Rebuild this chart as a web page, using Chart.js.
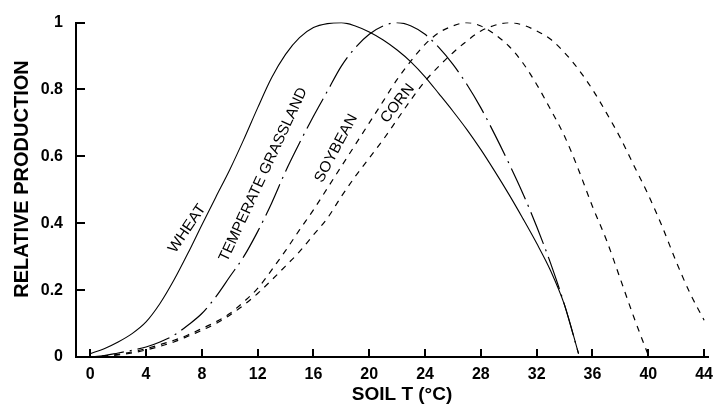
<!DOCTYPE html>
<html>
<head>
<meta charset="utf-8">
<script src="https://cdn.jsdelivr.net/npm/chart.js@4.4.1/dist/chart.umd.min.js"></script>
<style>
  html, body { margin: 0; padding: 0; background: #fff; }
</style>
</head>
<body>
<canvas id="grafikSuhu" width="721" height="406"></canvas>
<script>
// suhu tanah (x) dan produksi relatif tiap tanaman
const soilT = [0, 1, 2, 3, 4, 5, 6, 7, 8, 9, 10, 11, 12, 13, 14, 15, 16, 17, 18, 19, 20, 21, 22,
               23, 24, 25, 26, 27, 28, 29, 30, 31, 32, 33, 34, 35, 36, 37, 38, 39, 40, 41, 42, 43, 44];

const wheat = [0.01, 0.025, 0.045, 0.07, 0.105, 0.16, 0.23, 0.31, 0.395, 0.478, 0.56, 0.65, 0.745,
               0.835, 0.905, 0.955, 0.985, 0.997, 1.0, 0.99, 0.972, 0.948, 0.918, 0.882, 0.838, 0.787,
               0.735, 0.68, 0.62, 0.555, 0.487, 0.415, 0.34, 0.258, 0.155, 0.01];

const grassland = [0.0, 0.004, 0.012, 0.02, 0.03, 0.045, 0.065, 0.095, 0.13, 0.18, 0.24, 0.30, 0.375,
                   0.46, 0.555, 0.64, 0.72, 0.795, 0.87, 0.925, 0.965, 0.99, 1.0, 0.99, 0.965, 0.925,
                   0.875, 0.815, 0.745, 0.665, 0.58, 0.49, 0.39, 0.28, 0.155, 0.01];

const soybean = [0.0, 0.003, 0.008, 0.015, 0.025, 0.037, 0.05, 0.066, 0.085, 0.105, 0.13, 0.165, 0.205,
                 0.26, 0.318, 0.38, 0.44, 0.505, 0.57, 0.635, 0.70, 0.765, 0.83, 0.886, 0.935, 0.97,
                 0.99, 1.0, 0.99, 0.965, 0.93, 0.88, 0.815, 0.74, 0.66, 0.56, 0.45, 0.35, 0.233, 0.115, 0.005];

const corn = [0.0, 0.002, 0.006, 0.012, 0.021, 0.032, 0.045, 0.062, 0.08, 0.10, 0.125, 0.155, 0.19,
              0.23, 0.272, 0.315, 0.365, 0.415, 0.48, 0.54, 0.595, 0.65, 0.71, 0.77, 0.825, 0.87,
              0.91, 0.945, 0.975, 0.992, 1.0, 0.993, 0.975, 0.95, 0.91, 0.86, 0.80, 0.73, 0.655,
              0.57, 0.485, 0.39, 0.285, 0.19, 0.11];

const xTicks = [0, 4, 8, 12, 16, 20, 24, 28, 32, 36, 40, 44];
const xTickLabels = ['0', '4', '8', '12', '16', '20', '24', '28', '32', '36', '40', '44'];
const yTicks = [0, 0.2, 0.4, 0.6, 0.8, 1];
const yTickLabels = ['0', '0.2', '0.4', '0.6', '0.8', '1'];

const namaTanaman = ['WHEAT', 'TEMPERATE GRASSLAND', 'SOYBEAN', 'CORN'];

const FONT = '"Liberation Sans", Arial, Helvetica, sans-serif';

// posisi label di kurva (dalam satuan data), sudut dan panjang teks
const labelKurva = [
    { x: 6.95, y: 0.384, sudut: -56, panjang: 55 },
    { x: 12.41, y: 0.545, sudut: -65, panjang: 190 },
    { x: 17.63, y: 0.624, sudut: -62, panjang: 75 },
    { x: 22.03, y: 0.758, sudut: -52, panjang: 45 }
];

function toPoints(values) {
    return values.map((v, i) => ({ x: soilT[i], y: v }));
}

// tick kecil ke arah dalam + label kurva + judul sumbu
const gambarTambahan = {
    id: 'gambarTambahan',
    afterDraw(chart) {
        const { ctx, chartArea, scales } = chart;
        ctx.save();
        ctx.strokeStyle = '#000';
        ctx.lineWidth = 2;
        scales.x.ticks.forEach(t => {
            const px = Math.round(scales.x.getPixelForValue(t.value));
            ctx.beginPath();
            ctx.moveTo(px, chartArea.bottom);
            ctx.lineTo(px, chartArea.bottom - 8);
            ctx.stroke();
        });
        scales.y.ticks.forEach(t => {
            const py = Math.round(scales.y.getPixelForValue(t.value));
            ctx.beginPath();
            ctx.moveTo(chartArea.left, py);
            ctx.lineTo(chartArea.left + 9, py);
            ctx.stroke();
        });

        // label nama tanaman
        ctx.fillStyle = '#000';
        ctx.textAlign = 'center';
        ctx.textBaseline = 'middle';
        ctx.font = '15px ' + FONT;
        labelKurva.forEach((lb, i) => {
            const px = scales.x.getPixelForValue(lb.x);
            const py = scales.y.getPixelForValue(lb.y);
            const w = ctx.measureText(namaTanaman[i]).width;
            ctx.save();
            ctx.translate(px, py);
            ctx.rotate(lb.sudut * Math.PI / 180);
            ctx.scale(lb.panjang / w, 1);
            ctx.fillText(namaTanaman[i], 0, 0);
            ctx.restore();
        });

        // judul sumbu
        ctx.font = 'bold 19px ' + FONT;
        ctx.fillText('SOIL T (°C)', 402, 395);
        ctx.save();
        ctx.translate(22, 179);
        ctx.rotate(-Math.PI / 2);
        ctx.font = 'bold 20px ' + FONT;
        ctx.fillText('RELATIVE PRODUCTION', 0, 0);
        ctx.restore();
        ctx.restore();
    }
};

const gayaGaris = {
    borderColor: '#000',
    pointRadius: 0,
    fill: false,
    cubicInterpolationMode: 'monotone'
};

const ctx = document.getElementById('grafikSuhu').getContext('2d');
const grafikSuhu = new Chart(ctx, {
    type: 'line',
    data: {
        datasets: [
            { ...gayaGaris, label: namaTanaman[0], data: toPoints(wheat), borderWidth: 1.1 },
            { ...gayaGaris, label: namaTanaman[1], data: toPoints(grassland), borderWidth: 1.2, borderDash: [34, 6, 2, 6] },
            { ...gayaGaris, label: namaTanaman[2], data: toPoints(soybean), borderWidth: 1.2, borderDash: [6, 6] },
            { ...gayaGaris, label: namaTanaman[3], data: toPoints(corn), borderWidth: 1.2, borderDash: [6, 6] }
        ]
    },
    options: {
        responsive: false,
        animation: false,
        devicePixelRatio: 1,
        layout: { padding: { left: 0, top: 20, right: 1, bottom: 0 } },
        plugins: {
            legend: { display: false },
            tooltip: { enabled: false }
        },
        scales: {
            x: {
                type: 'linear',
                min: -1.02,
                max: 44.33,
                afterBuildTicks: s => { s.ticks = xTicks.map(v => ({ value: v })); },
                afterFit: s => { s.height = 49; },
                grid: { display: false, drawTicks: false },
                border: { display: true, color: '#000', width: 2 },
                ticks: {
                    color: '#000',
                    padding: 8,
                    maxRotation: 0,
                    autoSkip: false,
                    font: { family: FONT, size: 16, weight: 'bold' },
                    callback: (v) => xTickLabels[xTicks.indexOf(v)]
                }
            },
            y: {
                min: 0,
                max: 1,
                afterBuildTicks: s => { s.ticks = yTicks.map(v => ({ value: v })); },
                afterFit: s => { s.width = 76; },
                grid: { display: false, drawTicks: false },
                border: { display: true, color: '#000', width: 2 },
                ticks: {
                    color: '#000',
                    padding: 13,
                    autoSkip: false,
                    font: { family: FONT, size: 16, weight: 'bold' },
                    callback: (v) => yTickLabels[yTicks.indexOf(v)]
                }
            }
        }
    },
    plugins: [gambarTambahan]
});
</script>
</body>
</html>
